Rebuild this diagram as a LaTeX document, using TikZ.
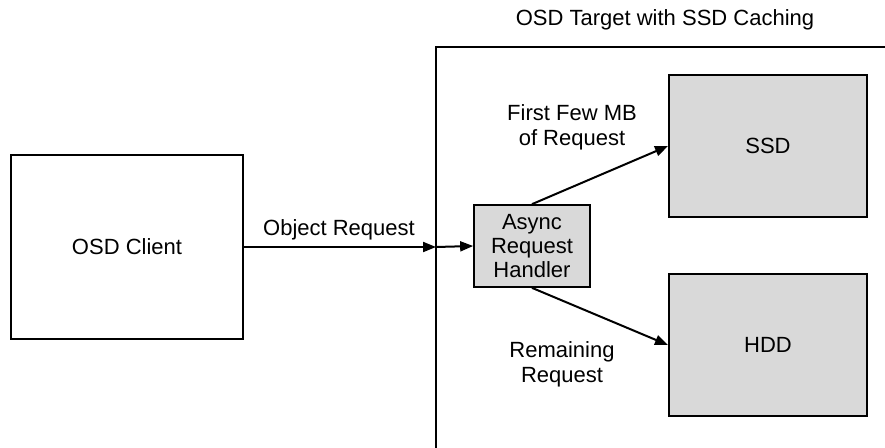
\documentclass[tikz,border=0pt]{standalone}
\usepackage{fontspec}
\setmainfont{Liberation Sans}
\usetikzlibrary{arrows.meta}
\definecolor{boxgray}{HTML}{D9D9D9}
\begin{document}
\begin{tikzpicture}[x=1pt,y=-1pt,
  every node/.style={font=\fontsize{22}{25}\selectfont},
  box/.style={draw=black, line width=2pt, inner sep=0pt, align=center},
  graybox/.style={box, fill=boxgray},
  lbl/.style={inner sep=0pt, align=center},
  conn/.style={line width=2pt, -{Triangle[length=13pt,width=10pt]}}
]
\useasboundingbox (0,0) rectangle (885,447);
% target container (only left and top edges visible)
\draw[line width=2pt] (436,449) -- (436,47) -- (887,47);
\node[lbl] (title) at (665,20) {OSD Target with SSD Caching};
\coordinate (tin) at (436,247);

\node[box, minimum width=232pt, minimum height=184pt] (client) at (127,247) {OSD Client};
\node[graybox, minimum width=198pt, minimum height=142pt] (ssd) at (768,146) {SSD};
\node[graybox, minimum width=198pt, minimum height=142pt] (hdd) at (768,345) {HDD};
\node[graybox, line width=1.7pt, minimum width=116pt, minimum height=82pt,
      font=\fontsize{22}{24}\selectfont] (arh) at (532,246) {Async\\Request\\Handler};

\draw[conn] (client.east |- tin) -- (tin);
\draw[conn] (tin) -- (arh.west);
\draw[conn] (arh.north) -- (ssd.west);
\draw[conn] (arh.south) -- (hdd.west);

\node[lbl, anchor=base] (objreq) at (339,235) {Object Request};
\node[lbl] (first) at (572,127) {First Few MB\\of Request};
\node[lbl] (remain) at (562,364) {Remaining\\Request};
\end{tikzpicture}
\end{document}
